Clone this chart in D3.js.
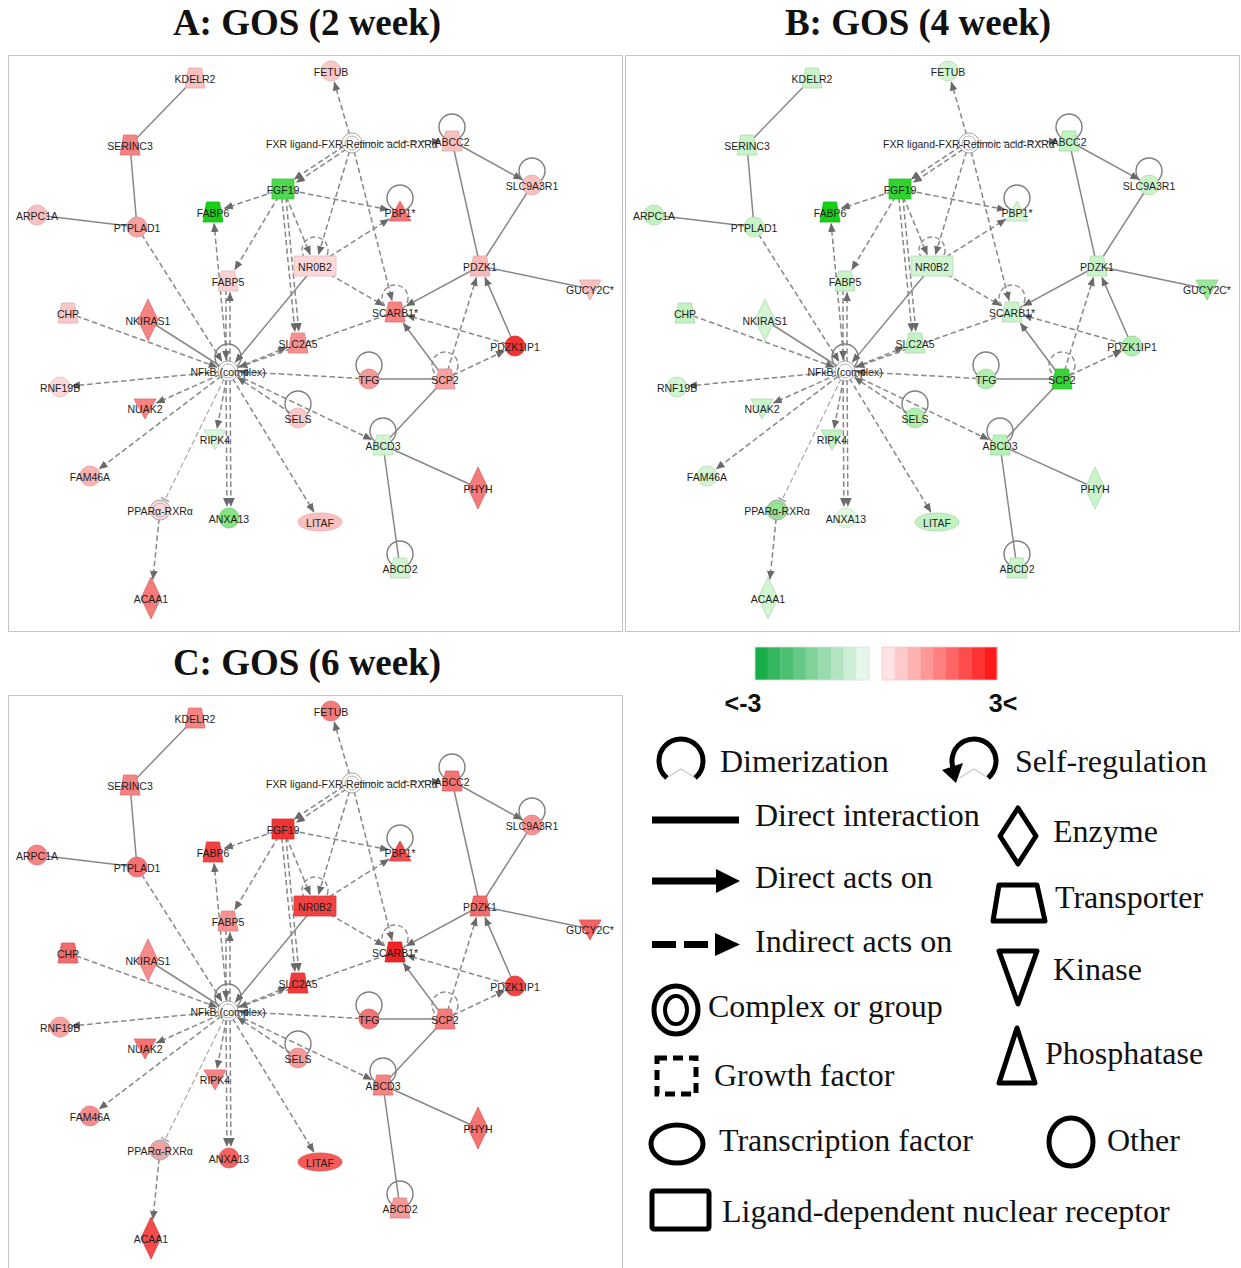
<!DOCTYPE html>
<html>
<head>
<meta charset="utf-8">
<script src="https://cdn.jsdelivr.net/npm/d3@7"></script>
<style>
  body { margin: 0; background: #ffffff; }
  svg { display: block; }
</style>
</head>
<body>
<svg id="chart" width="1241" height="1268"></svg>
<script>
// ---- Network content -------------------------------------------------------
const genes = [
  "KDELR2", "FETUB", "SERINC3", "FXR ligand-FXR-Retinoic acid-RXRα", "ABCC2",
  "SLC9A3R1", "FGF19", "FABP6", "PBP1*", "ARPC1A",
  "PTPLAD1", "NR0B2", "FABP5", "PDZK1", "GUCY2C*",
  "CHP", "NKIRAS1", "SCARB1*", "SLC2A5", "PDZK1IP1",
  "NFkB (complex)", "TFG", "SCP2", "RNF19B", "NUAK2",
  "SELS", "RIPK4", "ABCD3", "FAM46A", "PHYH",
  "PPARα-RXRα", "ANXA13", "LITAF", "ABCD2", "ACAA1"
];

const geneTypes = [
  "transporter", "other", "transporter", "complex", "transporter",
  "other", "growth", "transporter", "phosphatase", "other",
  "other", "receptor", "transporter", "transporter", "kinase",
  "transporter", "enzyme", "transporter", "transporter", "other",
  "complex", "other", "transporter", "other", "kinase",
  "other", "kinase", "transporter", "other", "enzyme",
  "complex", "other", "tf", "transporter", "enzyme"
];

// log fold change per gene (null = no measurement)
const week2 = [
  0.8, 0.7, 1.6, null, 0.8,
  0.8, -2.3, -3.0, 1.8, 0.8,
  1.2, 0.5, 0.6, 0.9, 0.8,
  0.7, 1.6, 1.6, 1.4, 2.6,
  null, 1.3, 1.2, 0.5, 1.6,
  0.7, -0.5, -0.6, 1.0, 1.7,
  0.5, -1.6, 0.8, -0.6, 1.7
];
const week4 = [
  -0.7, -0.6, -0.7, null, -0.8,
  -0.7, -2.7, -3.0, -0.6, -0.8,
  -0.7, -0.6, -0.7, -0.7, -1.3,
  -0.8, -0.6, -0.7, -0.8, -1.0,
  null, -1.0, -2.6, -0.6, -0.7,
  -1.0, -0.8, -0.9, -0.6, -0.7,
  -1.4, -0.4, -0.8, -0.7, -0.6
];
const week6 = [
  1.6, 1.7, 1.6, null, 1.8,
  1.4, 2.6, 2.4, 2.3, 1.6,
  1.8, 2.4, 1.4, 1.9, 2.0,
  1.9, 1.5, 2.8, 2.5, 2.4,
  null, 1.8, 1.7, 1.2, 1.8,
  1.3, 1.6, 1.6, 1.5, 1.8,
  1.2, 2.0, 2.1, 1.3, 2.3
];

const panelTitles = ["A: GOS (2 week)", "B: GOS (4 week)", "C: GOS (6 week)"];

// network layout (layout units inside a panel)
const layoutX = [
  187, 323, 122, 344, 444,
  524, 275, 205, 392, 29,
  129, 307, 220, 472, 582,
  60, 140, 387, 290, 507,
  220, 361, 437, 52, 137,
  290, 207, 375, 82, 470,
  152, 221, 312, 392, 143
];
const layoutY = [
  23, 16, 90, 88, 86,
  130, 134, 157, 157, 160,
  172, 211, 226, 211, 234,
  258, 265, 257, 288, 291,
  316, 324, 324, 332, 353,
  363, 384, 390, 421, 433,
  455, 463, 467, 513, 543
];

// relationships: [source, target, kind]
const relations = [
  ["KDELR2", "SERINC3", "direct"],
  ["SERINC3", "PTPLAD1", "direct"],
  ["ARPC1A", "PTPLAD1", "direct"],
  ["ABCC2", "PDZK1", "direct"],
  ["SLC9A3R1", "PDZK1", "direct"],
  ["PDZK1", "GUCY2C*", "direct"],
  ["NKIRAS1", "NFkB (complex)", "direct"],
  ["TFG", "SCP2", "direct"],
  ["SCP2", "ABCD3", "direct"],
  ["ABCD3", "PHYH", "direct"],
  ["ABCD3", "ABCD2", "direct"],
  ["NR0B2", "NFkB (complex)", "acts"],
  ["ABCC2", "SLC9A3R1", "acts"],
  ["PDZK1", "SCARB1*", "acts"],
  ["SCP2", "SCARB1*", "acts"],
  ["PDZK1IP1", "PDZK1", "acts"],
  ["FXR ligand-FXR-Retinoic acid-RXRα", "FETUB", "indirect"],
  ["FXR ligand-FXR-Retinoic acid-RXRα", "FGF19", "indirect"],
  ["FXR ligand-FXR-Retinoic acid-RXRα", "FGF19", "indirect"],
  ["FXR ligand-FXR-Retinoic acid-RXRα", "ABCC2", "indirect"],
  ["FXR ligand-FXR-Retinoic acid-RXRα", "NR0B2", "indirect"],
  ["FXR ligand-FXR-Retinoic acid-RXRα", "SCARB1*", "indirect"],
  ["FGF19", "FABP6", "indirect"],
  ["FGF19", "PBP1*", "indirect"],
  ["FGF19", "FABP5", "indirect"],
  ["FGF19", "NR0B2", "indirect"],
  ["FGF19", "SLC2A5", "indirect"],
  ["FGF19", "SLC2A5", "indirect"],
  ["NFkB (complex)", "FABP6", "indirect"],
  ["NFkB (complex)", "FABP5", "indirect"],
  ["FABP5", "NFkB (complex)", "indirect"],
  ["NR0B2", "PBP1*", "indirect"],
  ["NR0B2", "SCARB1*", "indirect"],
  ["NFkB (complex)", "SLC2A5", "indirect"],
  ["SCARB1*", "NFkB (complex)", "indirect"],
  ["PTPLAD1", "NFkB (complex)", "indirect"],
  ["CHP", "NFkB (complex)", "indirect"],
  ["NFkB (complex)", "RNF19B", "indirect"],
  ["NFkB (complex)", "NUAK2", "indirect"],
  ["NFkB (complex)", "FAM46A", "indirect"],
  ["NFkB (complex)", "PPARα-RXRα", "inhibit"],
  ["NFkB (complex)", "RIPK4", "indirect"],
  ["NFkB (complex)", "ANXA13", "indirect"],
  ["NFkB (complex)", "ANXA13", "indirect"],
  ["NFkB (complex)", "LITAF", "indirect"],
  ["TFG", "NFkB (complex)", "indirect"],
  ["SELS", "NFkB (complex)", "indirect"],
  ["NFkB (complex)", "ABCD3", "indirect"],
  ["SCP2", "PDZK1", "indirect"],
  ["SCP2", "PDZK1IP1", "indirect"],
  ["PDZK1IP1", "SCARB1*", "indirect"],
  ["PPARα-RXRα", "ACAA1", "indirect"]
];

// self-regulating genes and the kind of loop
const loopGenes = ["ABCC2", "SLC9A3R1", "PBP1*", "NFkB (complex)", "TFG", "SELS", "ABCD3", "ABCD2", "NR0B2", "SCARB1*", "SCP2"];
const loopKinds = ["direct", "direct", "direct", "direct", "direct", "direct", "direct", "direct", "indirect", "indirect", "indirect"];

const scaleEndLabels = ["<-3", "3<"];
const greenSteps = 9, redSteps = 9;

// ---- Setup ------------------------------------------------------------------
const svg = d3.select("#chart");
const defs = svg.append("defs");
const EDGE = "#878787";
const HEAD = "#6a6a6a";

defs.append("marker")
  .attr("id", "arrow").attr("viewBox", "0 -4 9 8")
  .attr("refX", 8.5).attr("refY", 0)
  .attr("markerUnits", "userSpaceOnUse")
  .attr("markerWidth", 9).attr("markerHeight", 8)
  .attr("orient", "auto")
  .append("path").attr("d", "M0,-3.8L9,0L0,3.8Z").attr("fill", HEAD);

defs.append("marker")
  .attr("id", "tee").attr("viewBox", "-1 -5 3 10")
  .attr("refX", 0).attr("refY", 0)
  .attr("markerUnits", "userSpaceOnUse")
  .attr("markerWidth", 3).attr("markerHeight", 10)
  .attr("orient", "auto")
  .append("path").attr("d", "M0,-4.5L0,4.5").attr("stroke", "#9a9a9a").attr("stroke-width", 1.3);

const color = d3.scaleLinear()
  .domain([-3, 0, 3])
  .range(["#16cf16", "#ffffff", "#ee1414"])
  .clamp(true);

// shape outline and hit-box for each gene type
const shapes = {
  other:       { path: "M-10,0A10,10 0 1,0 10,0A10,10 0 1,0 -10,0Z", kind: "ellipse", rx: 10, ry: 10 },
  complex:     { path: "M-10,0A10,10 0 1,0 10,0A10,10 0 1,0 -10,0Z", kind: "ellipse", rx: 10, ry: 10 },
  tf:          { path: "M-22,0A22,9 0 1,0 22,0A22,9 0 1,0 -22,0Z", kind: "ellipse", rx: 22, ry: 9 },
  transporter: { path: "M-6.5,-10L6.5,-10L10,10L-10,10Z", kind: "box", hw: 10, hh: 10 },
  kinase:      { path: "M-11,-9L11,-9L0,11Z", kind: "box", hw: 10, hh: 9 },
  phosphatase: { path: "M0,-11L11,9L-11,9Z", kind: "box", hw: 10, hh: 9 },
  enzyme:      { path: "M0,-21L10,0L0,21L-10,0Z", kind: "diamond", hw: 10, hh: 21 },
  growth:      { path: "M-11,-10L11,-10L11,10L-11,10Z", kind: "box", hw: 11, hh: 10 },
  receptor:    { path: "M-21,-10L21,-10L21,10L-21,10Z", kind: "box", hw: 21, hh: 10 }
};

function boundary(type, ux, uy) {
  const s = shapes[type];
  const ax = Math.abs(ux) + 1e-9, ay = Math.abs(uy) + 1e-9;
  if (s.kind === "ellipse") return 1 / Math.sqrt((ax / s.rx) ** 2 + (ay / s.ry) ** 2);
  if (s.kind === "diamond") return 1 / (ax / s.hw + ay / s.hh);
  return Math.min(s.hw / ax, s.hh / ay);
}

const geneIndex = new Map(genes.map((g, i) => [g, i]));

// parallel relations between the same pair are spread apart
const pairCount = d3.rollup(relations, v => v.length, r => [r[0], r[1]].sort().join("|"));
const pairSeen = new Map();
const relationOffsets = relations.map(r => {
  const key = [r[0], r[1]].sort().join("|");
  const k = pairSeen.get(key) || 0;
  pairSeen.set(key, k + 1);
  const n = pairCount.get(key);
  const sign = r[0] < r[1] ? 1 : -1;
  return (k - (n - 1) / 2) * 4 * sign;
});

function drawPanel(values, x0, y0, title, titleX, titleY, boxH) {
  const g = svg.append("g");
  const x = d3.scaleLinear().domain([0, 614]).range([x0, x0 + 614]);
  const y = d3.scaleLinear().domain([0, 576]).range([y0, y0 + 576]);

  svg.append("text")
    .attr("x", titleX).attr("y", titleY)
    .attr("text-anchor", "middle")
    .attr("font-family", "'Liberation Serif', 'Times New Roman', serif")
    .attr("font-weight", "bold").attr("font-size", 37)
    .attr("fill", "#111")
    .text(title);

  g.append("rect")
    .attr("x", x0 + 0.5).attr("y", y0 + 0.5)
    .attr("width", 614).attr("height", boxH)
    .attr("fill", "#fff").attr("stroke", "#c4c4c4").attr("stroke-width", 1);

  const pos = genes.map((gname, i) => ({ x: x(layoutX[i]), y: y(layoutY[i]) }));

  // self loops
  loopGenes.forEach((gname, k) => {
    const p = pos[geneIndex.get(gname)];
    const type = geneTypes[geneIndex.get(gname)];
    const cy = (type === "receptor" ? p.y - 16 : p.y - 14);
    g.append("circle")
      .attr("cx", p.x).attr("cy", cy).attr("r", 13)
      .attr("fill", "none").attr("stroke", loopKinds[k] === "direct" ? "#7f7f7f" : "#8c8c8c")
      .attr("stroke-width", 1.4)
      .attr("stroke-dasharray", loopKinds[k] === "direct" ? null : "5,3");
  });

  // relations
  relations.forEach((r, i) => {
    const si = geneIndex.get(r[0]), ti = geneIndex.get(r[1]);
    const s = pos[si], t = pos[ti];
    const dx = t.x - s.x, dy = t.y - s.y;
    const len = Math.hypot(dx, dy);
    const ux = dx / len, uy = dy / len;
    const off = relationOffsets[i];
    const ox = -uy * off, oy = ux * off;
    let ex = t.x + ox, ey = t.y + oy;
    if (r[2] !== "direct") {
      const b = boundary(geneTypes[ti], ux, uy) + 1.5;
      ex -= ux * b; ey -= uy * b;
    }
    g.append("line")
      .attr("x1", s.x + ox).attr("y1", s.y + oy)
      .attr("x2", ex).attr("y2", ey)
      .attr("stroke", r[2] === "inhibit" ? "#a0a0a0" : EDGE)
      .attr("stroke-width", r[2] === "inhibit" ? 1.1 : 1.5)
      .attr("stroke-dasharray", (r[2] === "indirect" || r[2] === "inhibit") ? "5.5,3" : null)
      .attr("marker-end", r[2] === "inhibit" ? "url(#tee)" : (r[2] === "direct" ? null : "url(#arrow)"));
  });

  // gene nodes
  genes.forEach((gname, i) => {
    const p = pos[i];
    const type = geneTypes[i];
    const v = values[i];
    const node = g.append("g").attr("transform", `translate(${p.x},${p.y})`);
    if (type === "complex") {
      const fill = v == null ? "#ffffff" : color(v);
      node.append("path").attr("d", shapes.complex.path)
        .attr("fill", fill).attr("stroke", "#a8a8a8").attr("stroke-width", 1);
      node.append("circle").attr("r", 7)
        .attr("fill", "none").attr("stroke", "#b4b4b4").attr("stroke-width", 1);
    } else {
      const fill = color(v);
      node.append("path").attr("d", shapes[type].path)
        .attr("fill", fill)
        .attr("stroke", d3.color(fill).darker(0.35))
        .attr("stroke-width", 0.8);
    }
    node.append("text")
      .attr("x", 0).attr("y", 0.5)
      .attr("text-anchor", "middle")
      .attr("dominant-baseline", "central")
      .attr("font-family", "'Liberation Sans', Arial, sans-serif")
      .attr("font-size", 10.5)
      .attr("fill", "#1e1e1e")
      .text(gname);
  });
}

drawPanel(week2, 8, 55, panelTitles[0], 307, 35, 576);
drawPanel(week4, 625, 55, panelTitles[1], 918, 35, 576);
drawPanel(week6, 8, 695, panelTitles[2], 307, 675, 580);

// ---- Legend -----------------------------------------------------------------
const lg = svg.append("g");
const serif = "'Liberation Serif', 'Times New Roman', serif";

// colour scale bar
const greenRamp = d3.scaleLinear().domain([0, greenSteps - 1]).range(["#19ad4a", "#e6f6ea"]);
const redRamp = d3.scaleLinear().domain([0, redSteps - 1]).range(["#fde3e3", "#fe1a1a"]);
const gx = d3.scaleBand().domain(d3.range(greenSteps)).range([755, 869]);
const rx = d3.scaleBand().domain(d3.range(redSteps)).range([882, 997]);
lg.selectAll(".gstep").data(d3.range(greenSteps)).join("rect")
  .attr("x", d => gx(d)).attr("y", 647).attr("width", gx.bandwidth() + 0.3).attr("height", 33)
  .attr("fill", d => greenRamp(d));
lg.selectAll(".rstep").data(d3.range(redSteps)).join("rect")
  .attr("x", d => rx(d)).attr("y", 647).attr("width", rx.bandwidth() + 0.3).attr("height", 33)
  .attr("fill", d => redRamp(d));
lg.append("rect").attr("x", 755).attr("y", 647).attr("width", 114).attr("height", 33)
  .attr("fill", "none").attr("stroke", "#cfe8d6").attr("stroke-width", 0.8);
lg.append("rect").attr("x", 882).attr("y", 647).attr("width", 115).attr("height", 33)
  .attr("fill", "none").attr("stroke", "#f3c9c9").attr("stroke-width", 0.8);
[[743, scaleEndLabels[0]], [1003, scaleEndLabels[1]]].forEach(([cx, t]) => {
  lg.append("text").attr("x", cx).attr("y", 712)
    .attr("text-anchor", "middle")
    .attr("font-family", "'Liberation Sans', Arial, sans-serif")
    .attr("font-weight", "bold").attr("font-size", 25)
    .attr("fill", "#111").text(t);
});

function legendText(x, y, t) {
  lg.append("text").attr("x", x).attr("y", y)
    .attr("font-family", serif).attr("font-size", 32)
    .attr("fill", "#111").text(t);
}
const K = "#000";

// dimerization
function ringArc(cx, cy, r) {
  const a0 = 130 * Math.PI / 180, a1 = 50 * Math.PI / 180;
  return {
    d: `M${cx + r * Math.cos(a0)},${cy + r * Math.sin(a0)}A${r},${r} 0 1,1 ${cx + r * Math.cos(a1)},${cy + r * Math.sin(a1)}`,
    p0: [cx + r * Math.cos(a0), cy + r * Math.sin(a0)],
    p1: [cx + r * Math.cos(a1), cy + r * Math.sin(a1)]
  };
}
{
  const a = ringArc(681, 761, 22);
  lg.append("path").attr("d", `M${a.p0}L681,769L${a.p1}`).attr("fill", "none").attr("stroke", "#c8c8c8").attr("stroke-width", 1.2);
  lg.append("path").attr("d", a.d).attr("fill", "none").attr("stroke", K).attr("stroke-width", 5);
  legendText(720, 772, "Dimerization");
}
// self-regulation
{
  const a = ringArc(974, 761, 22);
  const b0 = 160 * Math.PI / 180, b1 = 50 * Math.PI / 180, r = 22;
  const s = [974 + r * Math.cos(b0), 761 + r * Math.sin(b0)];
  const e = [974 + r * Math.cos(b1), 761 + r * Math.sin(b1)];
  lg.append("path").attr("d", `M${a.p0}L974,769L${a.p1}`).attr("fill", "none").attr("stroke", "#c8c8c8").attr("stroke-width", 1.2);
  lg.append("path").attr("d", `M${s}A${r},${r} 0 1,1 ${e}`).attr("fill", "none").attr("stroke", K).attr("stroke-width", 5);
  lg.append("path").attr("d", "M942,770L963,763L956,783Z").attr("fill", K);
  legendText(1015, 772, "Self-regulation");
}
// direct interaction
lg.append("line").attr("x1", 652).attr("x2", 739).attr("y1", 820).attr("y2", 820).attr("stroke", K).attr("stroke-width", 7);
legendText(755, 826, "Direct interaction");
// direct acts on
lg.append("line").attr("x1", 652).attr("x2", 719).attr("y1", 881).attr("y2", 881).attr("stroke", K).attr("stroke-width", 7);
lg.append("path").attr("d", "M716,869L740,881L716,893Z").attr("fill", K);
legendText(755, 888, "Direct acts on");
// indirect acts on
lg.append("rect").attr("x", 652).attr("y", 941).attr("width", 24).attr("height", 7).attr("fill", K);
lg.append("rect").attr("x", 684).attr("y", 941).attr("width", 24).attr("height", 7).attr("fill", K);
lg.append("path").attr("d", "M715,933L740,944.5L715,956Z").attr("fill", K);
legendText(755, 952, "Indirect acts on");
// complex or group
lg.append("ellipse").attr("cx", 676).attr("cy", 1010).attr("rx", 22).attr("ry", 24).attr("fill", "none").attr("stroke", K).attr("stroke-width", 5);
lg.append("ellipse").attr("cx", 676).attr("cy", 1010).attr("rx", 11).attr("ry", 14).attr("fill", "none").attr("stroke", K).attr("stroke-width", 4);
legendText(708, 1017, "Complex or group");
// growth factor
lg.append("rect").attr("x", 657).attr("y", 1058).attr("width", 39).attr("height", 36).attr("fill", "none").attr("stroke", K).attr("stroke-width", 5).attr("stroke-dasharray", "10,6");
legendText(714, 1086, "Growth factor");
// transcription factor
lg.append("ellipse").attr("cx", 677).attr("cy", 1144).attr("rx", 26).attr("ry", 19).attr("fill", "none").attr("stroke", K).attr("stroke-width", 5);
legendText(719, 1151, "Transcription factor");
// ligand-dependent nuclear receptor
lg.append("rect").attr("x", 652).attr("y", 1191).attr("width", 57).attr("height", 38).attr("rx", 2).attr("fill", "none").attr("stroke", K).attr("stroke-width", 5);
legendText(722, 1222, "Ligand-dependent nuclear receptor");
// enzyme
lg.append("path").attr("d", "M1018,808L1036,836L1018,864L1000,836Z").attr("fill", "none").attr("stroke", K).attr("stroke-width", 5).attr("stroke-linejoin", "round");
legendText(1053, 842, "Enzyme");
// transporter
lg.append("path").attr("d", "M999,885L1037,885L1045,921L993,921Z").attr("fill", "none").attr("stroke", K).attr("stroke-width", 5).attr("stroke-linejoin", "round");
legendText(1055, 908, "Transporter");
// kinase
lg.append("path").attr("d", "M999,951L1037,951L1018,1004Z").attr("fill", "none").attr("stroke", K).attr("stroke-width", 5).attr("stroke-linejoin", "round");
legendText(1053, 980, "Kinase");
// phosphatase
lg.append("path").attr("d", "M1017,1028L1035,1083L999,1083Z").attr("fill", "none").attr("stroke", K).attr("stroke-width", 5).attr("stroke-linejoin", "round");
legendText(1045, 1064, "Phosphatase");
// other
lg.append("ellipse").attr("cx", 1071).attr("cy", 1142).attr("rx", 22).attr("ry", 24).attr("fill", "none").attr("stroke", K).attr("stroke-width", 5);
legendText(1107, 1151, "Other");
</script>
</body>
</html>
